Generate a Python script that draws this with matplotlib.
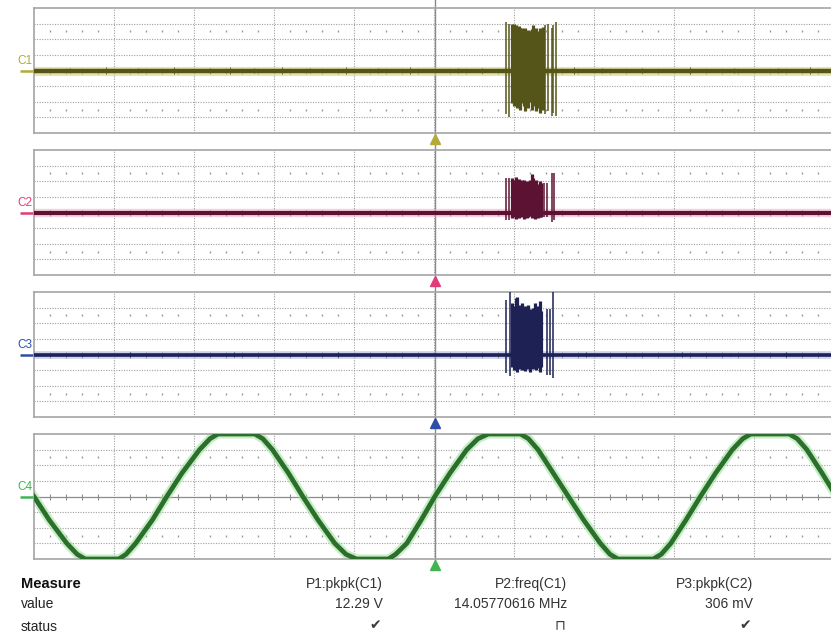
import numpy as np
import matplotlib.pyplot as plt

W, H = 831, 634

# time axis in divisions (0..10), voltage in divisions (-4..4)
trigger_div = 5.01

# C1: baseline glitches, burst block and outer spikes
c1_noise_x = [0.45, 0.9, 1.3, 1.75, 2.2, 2.45, 2.75, 3.1, 3.45, 3.9, 4.3, 4.7, 5.3, 5.6, 6.75, 7.1, 7.6, 8.2, 8.75, 9.3, 9.7]
c1_noise_amp = [0.18, 0.22, 0.15, 0.2, 0.18, 0.25, 0.15, 0.2, 0.18, 0.22, 0.15, 0.2, 0.18, 0.15, 0.22, 0.18, 0.15, 0.2, 0.18, 0.15, 0.2]
c1_block_x = [5.98, 6.00, 6.02, 6.04, 6.06, 6.08, 6.10, 6.12, 6.14, 6.16, 6.18, 6.20, 6.22, 6.24, 6.26, 6.28, 6.30, 6.32, 6.34, 6.36]
c1_block_top = [3.0, 2.95, 2.9, 2.8, 2.85, 2.7, 2.75, 2.6, 2.7, 2.55, 2.6, 2.5, 2.65, 2.9, 2.6, 2.7, 2.5, 2.75, 2.6, 2.8]
c1_block_bot = [-2.1, -2.3, -2.0, -2.4, -2.2, -2.5, -2.1, -2.3, -2.6, -2.2, -2.4, -2.0, -2.5, -2.3, -2.1, -2.6, -2.4, -2.7, -2.2, -2.5]
c1_spike_x = [5.90, 5.94, 6.39, 6.43, 6.47, 6.49, 6.52]
c1_spike_top = [3.1, 3.0, 2.9, 3.0, 2.7, 2.9, 3.1]
c1_spike_bot = [-2.8, -3.0, -2.8, -2.6, -2.9, -2.7, -2.9]

# C2
c2_block_x = [5.98, 6.00, 6.02, 6.04, 6.06, 6.08, 6.10, 6.12, 6.14, 6.16, 6.18, 6.20, 6.22, 6.24, 6.26, 6.28, 6.30, 6.32, 6.34]
c2_block_top = [2.2, 2.1, 2.25, 2.0, 2.15, 1.9, 2.05, 2.1, 1.95, 2.0, 1.85, 2.1, 2.45, 2.2, 1.9, 2.05, 1.8, 2.0, 1.9]
c2_block_bot = [-0.35, -0.3, -0.4, -0.3, -0.35, -0.25, -0.3, -0.4, -0.3, -0.35, -0.3, -0.25, -0.35, -0.3, -0.4, -0.3, -0.35, -0.3, -0.3]
c2_spike_x = [5.90, 5.94, 6.38, 6.41, 6.47, 6.50]
c2_spike_top = [2.2, 2.2, 1.9, 1.9, 2.5, 2.5]
c2_spike_bot = [-0.5, -0.5, -0.3, -0.3, -0.6, -0.5]

# C3
c3_noise_x = [0.6, 1.2, 1.9, 2.5, 3.2, 3.8, 4.5, 6.9, 7.5, 8.1, 8.7, 9.4]
c3_noise_amp = [0.12, 0.15, 0.12, 0.15, 0.12, 0.15, 0.12, 0.15, 0.12, 0.15, 0.12, 0.15]
c3_block_x = [5.98, 6.00, 6.02, 6.04, 6.06, 6.08, 6.10, 6.12, 6.14, 6.16, 6.18, 6.20, 6.22, 6.24, 6.26, 6.28, 6.30, 6.32, 6.34]
c3_block_top = [3.3, 3.1, 3.6, 3.7, 3.2, 3.0, 3.3, 2.9, 3.1, 2.8, 3.2, 2.9, 2.7, 3.0, 3.3, 2.8, 3.1, 3.4, 2.8]
c3_block_bot = [-0.8, -1.0, -0.7, -1.1, -0.9, -0.65, -1.0, -0.8, -1.05, -0.7, -0.9, -1.1, -0.75, -0.95, -0.7, -1.0, -0.85, -1.1, -0.8]
c3_spike_x = [5.90, 5.95, 6.41, 6.45, 6.49]
c3_spike_top = [3.5, 4.0, 2.9, 2.9, 4.0]
c3_spike_bot = [-1.2, -1.4, -1.3, -1.3, -1.5]

# C4: clipped sine
c4_t = [0.00, 0.19, 0.41, 0.54, 0.64, 1.06, 1.15, 1.27, 1.48, 1.66,
        1.85, 2.07, 2.20, 2.30, 2.76, 2.86, 2.98, 3.18, 3.36,
        3.55, 3.76, 3.90, 4.03, 4.43, 4.52, 4.66, 4.84, 5.01,
        5.20, 5.41, 5.55, 5.68, 6.08, 6.18, 6.30, 6.49, 6.68,
        6.87, 7.08, 7.20, 7.30, 7.74, 7.84, 7.96, 8.15, 8.33,
        8.52, 8.73, 8.86, 8.96, 9.44, 9.54, 9.66, 9.85, 10.03]
c4_v = [0.0, -1.5, -3.0, -3.7, -4.0, -4.0, -3.7, -3.0, -1.5, 0.0,
        1.5, 3.0, 3.7, 4.0, 4.0, 3.7, 3.0, 1.5, 0.0,
        -1.5, -3.0, -3.7, -4.0, -4.0, -3.7, -3.0, -1.5, 0.0,
        1.5, 3.0, 3.7, 4.0, 4.0, 3.7, 3.0, 1.5, 0.0,
        -1.5, -3.0, -3.7, -4.0, -4.0, -3.7, -3.0, -1.5, 0.0,
        1.5, 3.0, 3.7, 4.0, 4.0, 3.7, 3.0, 1.5, 0.0]

# measurement table
meas_headers = ["P1:pkpk(C1)", "P2:freq(C1)", "P3:pkpk(C2)"]
meas_values = ["12.29 V", "14.05770616 MHz", "306 mV"]
meas_status = ["\u2714", "\u2293", "\u2714"]
meas_right_px = [383, 567, 753]

channels = ["C1", "C2", "C3", "C4"]
trace_colors = ["#55551a", "#5c1232", "#1d2154", "#2c6e2c"]
halo_colors = ["#d6d27a", "#f3a0bd", "#9aa6dc", "#9fe39f"]
label_colors = ["#b3ab35", "#e23c78", "#2f4ea8", "#3fb552"]
panel_tops = [8, 150, 292, 434]
panel_h = 125

plt.rcParams['font.family'] = ['Liberation Sans', 'DejaVu Sans']
fig = plt.figure(figsize=(W / 100, H / 100), dpi=100)
fig.patch.set_facecolor("white")

# trigger line across the whole screen (behind transparent panels)
tx = (34 + 80 * trigger_div) / W
fig.add_artist(plt.Line2D([tx, tx], [1, 1 - 561 / H], color="#8a8a8a", lw=1.0, zorder=-1))

axes = []
for i, top in enumerate(panel_tops):
    ax = fig.add_axes([34 / W, 1 - (top + panel_h) / H, 800 / W, panel_h / H])
    ax.patch.set_alpha(0)
    ax.set_xlim(0, 10)
    ax.set_ylim(-4, 4)
    ax.set_xticks([])
    ax.set_yticks([])
    for s in ax.spines.values():
        s.set_color("#a4a4a4")
        s.set_linewidth(1.2)
    # graticule
    for gx in range(1, 10):
        ax.axvline(gx, color="#a0a0a0", lw=0.8, ls=(0, (1, 1.3)), zorder=1)
    for gy in [-3, -2, -1, 1, 2, 3]:
        ax.axhline(gy, color="#a0a0a0", lw=0.8, ls=(0, (1, 1.3)), zorder=1)
    minor = [m / 5 for m in range(1, 50) if m % 5]
    ax.plot(minor, [2.5] * len(minor), ls="none", marker="|", ms=2, color="#9a9a9a", zorder=1)
    ax.plot(minor, [-2.5] * len(minor), ls="none", marker="|", ms=2, color="#9a9a9a", zorder=1)
    ax.axhline(0, color="#8c8c8c", lw=0.9, zorder=1)
    ax.plot(minor, [0] * len(minor), ls="none", marker="|", ms=4.5, mew=0.8, color="#8c8c8c", zorder=1)
    axes.append(ax)

# channel labels, offset markers, trigger markers
for ax, name, lc in zip(axes, channels, label_colors):
    ax.text(-0.02, 0.6, name, color=lc, fontsize=8.5, ha="right", va="center", clip_on=False)
    ax.plot([-0.17, 0], [0, 0], color=lc, lw=1.8, clip_on=False, solid_capstyle="butt")
    ax.plot([trigger_div], [-4.36], marker="^", ms=7, color=lc, clip_on=False, zorder=6)

def draw_burst(ax, col, bx, btop, bbot, sx, stop, sbot):
    ax.vlines(bx, bbot, btop, color=col, lw=2.3, zorder=4)
    ax.vlines(sx, sbot, stop, color=col, lw=1.1, zorder=4)

# C1
ax = axes[0]
ax.hlines(0, 0, 10, color=halo_colors[0], lw=6.5, alpha=0.6, zorder=2)
ax.hlines(0, 0, 10, color=trace_colors[0], lw=3.2, zorder=3)
ax.vlines(c1_noise_x, [-a for a in c1_noise_amp], c1_noise_amp, color=trace_colors[0], lw=0.6, zorder=3)
draw_burst(ax, trace_colors[0], c1_block_x, c1_block_top, c1_block_bot, c1_spike_x, c1_spike_top, c1_spike_bot)

# C2
ax = axes[1]
ax.hlines(0, 0, 10, color=halo_colors[1], lw=6, alpha=0.5, zorder=2)
ax.hlines(0, 0, 10, color=trace_colors[1], lw=3.0, zorder=3)
draw_burst(ax, trace_colors[1], c2_block_x, c2_block_top, c2_block_bot, c2_spike_x, c2_spike_top, c2_spike_bot)

# C3
ax = axes[2]
ax.hlines(0, 0, 10, color=halo_colors[2], lw=5.5, alpha=0.5, zorder=2)
ax.hlines(0, 0, 10, color=trace_colors[2], lw=2.6, zorder=3)
ax.vlines(c3_noise_x, [-a for a in c3_noise_amp], c3_noise_amp, color=trace_colors[2], lw=0.6, zorder=3)
draw_burst(ax, trace_colors[2], c3_block_x, c3_block_top, c3_block_bot, c3_spike_x, c3_spike_top, c3_spike_bot)

# C4
ax = axes[3]
ax.plot(c4_t, c4_v, color=halo_colors[3], lw=6.5, alpha=0.6, zorder=2, solid_joinstyle="round")
ax.plot(c4_t, c4_v, color=trace_colors[3], lw=3.4, zorder=3, solid_joinstyle="round")

# measurement table
def fy(px):
    return 1 - px / H

fig.text(21 / W, fy(588), "Measure", fontsize=10.5, fontweight="bold", color="#111111", va="baseline")
fig.text(21 / W, fy(608), "value", fontsize=10, color="#222222", va="baseline")
fig.text(21 / W, fy(631), "status", fontsize=10, color="#222222", va="baseline")
for hdr, val, st, xr in zip(meas_headers, meas_values, meas_status, meas_right_px):
    fig.text(xr / W, fy(588), hdr, fontsize=10, color="#333333", ha="right", va="baseline")
    fig.text(xr / W, fy(608), val, fontsize=10, color="#333333", ha="right", va="baseline")
    fig.text((xr - 2) / W, fy(629), st, fontsize=10, color="#3a3a3a", ha="right", va="baseline",
             family=["DejaVu Sans"])

fig.savefig("out.png", dpi=100)
